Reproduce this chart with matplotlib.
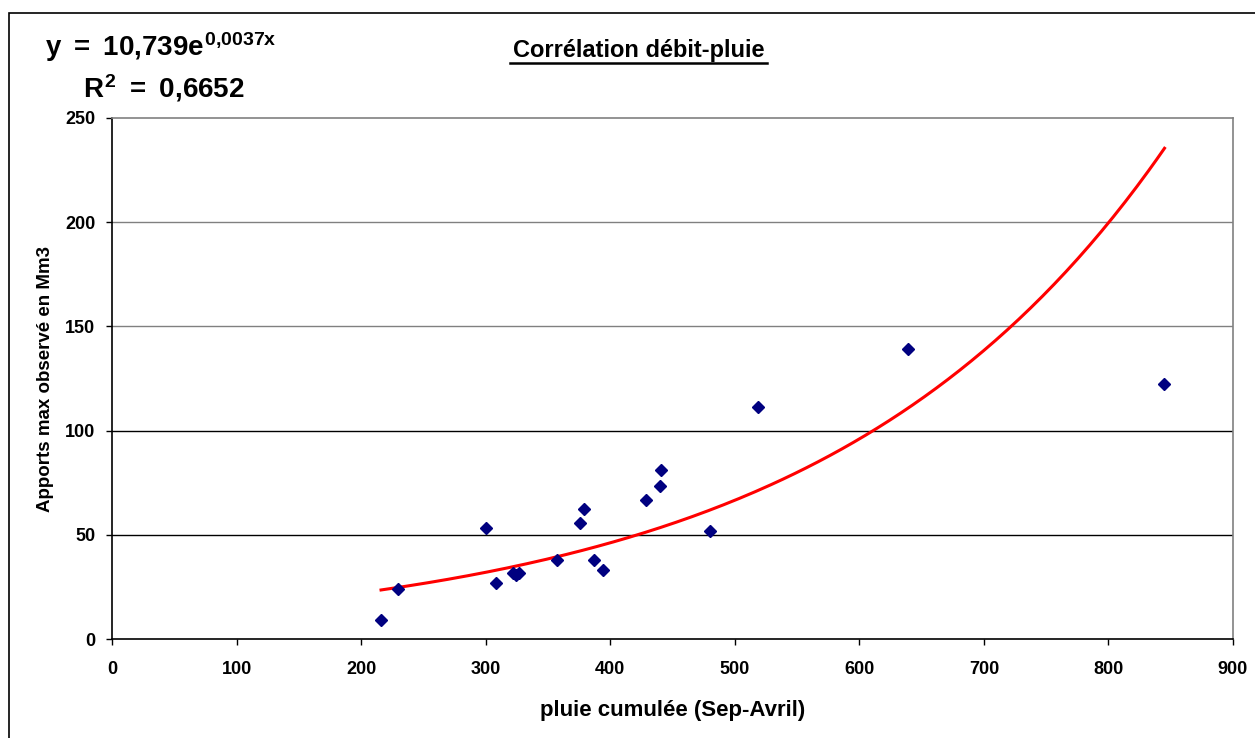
import numpy as np
import matplotlib
matplotlib.use('Agg')
import matplotlib.pyplot as plt
from matplotlib.patches import Rectangle

plt.rcParams['font.family'] = ['Liberation Sans', 'DejaVu Sans']
plt.rcParams['font.weight'] = 'bold'
plt.rcParams['mathtext.fontset'] = 'custom'
plt.rcParams['mathtext.rm'] = 'Liberation Sans:bold'
plt.rcParams['mathtext.bf'] = 'Liberation Sans:bold'
plt.rcParams['mathtext.it'] = 'Liberation Sans:bold'

# Data
pluie = [216, 230, 300, 308, 322, 324, 327, 357, 376, 379, 387, 394,
         429, 440, 441, 480, 519, 639, 845]
apports = [9.3, 24, 53.5, 27, 31.5, 30.5, 31.5, 38, 55.5, 62.5, 38, 33,
           66.5, 73.5, 81, 52, 111.5, 139, 122.5]

eq_text = r'$y\ =\ 10{,}739e^{0{,}0037x}$'
r2_text = r'$R^2\ =\ 0{,}6652$'

x = np.array(pluie)
y = np.array(apports)

# exponential trend line (fit of ln y on x, like Excel)
b, ln_a = np.polyfit(x, np.log(y), 1)
xt = np.linspace(x.min(), x.max(), 200)
yt = np.exp(ln_a) * np.exp(b * xt)

fig = plt.figure(figsize=(12.55, 7.38), dpi=100)
ax = fig.add_axes([112 / 1255, 1 - 639 / 738, (1233 - 112) / 1255, (639 - 118) / 738])

# gridlines
for val, col in [(50, 'black'), (100, 'black'), (150, '#808080'), (200, '#808080')]:
    ax.axhline(val, color=col, lw=1.0, zorder=1)

ax.plot(x, y, 'D', color='#000080', ms=6.5, zorder=3)
ax.plot(xt, yt, color='#FF0000', lw=2.2, zorder=2)

ax.set_xlim(0, 900)
ax.set_ylim(0, 250)
ax.set_xticks(range(0, 901, 100))
ax.set_yticks(range(0, 251, 50))
ax.tick_params(direction='out', length=4, width=1, labelsize=13)
ax.tick_params(axis='x', pad=12)
ax.tick_params(axis='y', pad=8)

ax.spines['left'].set_color('black')
ax.spines['bottom'].set_color('black')
ax.spines['top'].set_color('#808080')
ax.spines['right'].set_color('#808080')
for s in ax.spines.values():
    s.set_linewidth(1.2)

ax.set_xlabel('pluie cumulée (Sep-Avril)', fontsize=16, fontweight='bold', labelpad=16)
ax.set_ylabel('Apports max observé en Mm3', fontsize=13.5, fontweight='bold', labelpad=8)

fig.text(639 / 1255, 1 - 57 / 738, 'Corrélation débit-pluie', ha='center', va='baseline',
         fontsize=17, fontweight='bold')
# underline for the title
fig.add_artist(plt.Line2D([510 / 1255, 767 / 1255], [1 - 63 / 738, 1 - 63 / 738],
                          color='black', lw=1.8))

fig.text(45 / 1255, 1 - 47 / 738, eq_text, ha='left', va='center', fontsize=20)
fig.text(83 / 1255, 1 - 88 / 738, r2_text, ha='left', va='center', fontsize=20)

# chart frame
fig.add_artist(Rectangle((9 / 1255, -0.1), 1.2, 1.1 - 13 / 738, transform=fig.transFigure,
                         fill=False, ec='black', lw=1.2))

fig.savefig('out.png', dpi=100)
